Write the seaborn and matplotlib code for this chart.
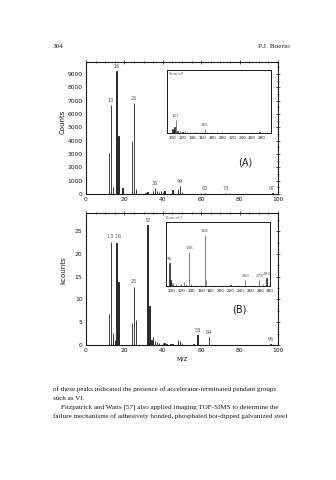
import numpy as np
import pandas as pd
import seaborn as sns
import matplotlib
matplotlib.use("Agg")
import matplotlib.pyplot as plt
from matplotlib.ticker import MultipleLocator

# ---------------- data ----------------
mz_a = [12, 13, 14, 16, 17, 19, 24, 25, 26, 31, 32, 35, 36, 37, 38, 39, 40, 41,
        45, 48, 49, 50, 60, 62, 73, 97]
cnt_a = [3050, 6650, 520, 9250, 4380, 480, 3950, 6850, 350, 90, 150, 200, 420, 200,
         160, 210, 150, 260, 320, 380, 600, 150, 50, 80, 80, 60]
lab_a_mz = [13, 16, 25, 36, 49, 62, 73, 97]

mz_a_in = [100, 102, 104, 107, 110, 115, 120, 125, 130, 135, 145, 150, 160, 165,
           170, 180, 190, 200, 215, 230, 245, 260, 275, 290]
cnt_a_in = [6, 4, 9, 21, 3, 3, 2, 3, 2, 2, 1.5, 2, 2, 7, 2, 1.5, 1.5, 1.5, 1.5, 1.5,
            1.5, 1.5, 1.5, 1.5]
lab_a_in = [107, 165]

mz_b = [12, 13, 14, 15, 16, 17, 24, 25, 26, 32, 33, 34, 35, 36, 37, 38, 40, 41, 42,
        44, 45, 48, 49, 50, 56, 58, 64, 96]
cnt_b = [6.8, 22.7, 2.7, 1.0, 22.5, 13.8, 4.8, 12.8, 5.4, 26.4, 8.5, 1.2, 1.8, 0.8,
         0.6, 0.4, 0.4, 0.5, 0.3, 0.3, 0.3, 1.0, 0.8, 0.4, 0.3, 2.2, 1.8, 0.2]
lab_b_mz = [32, 58, 64, 96]

mz_b_in = [96, 98, 100, 102, 104, 110, 120, 125, 130, 136, 140, 150, 160, 168, 170,
           185, 200, 220, 235, 250, 265, 278, 285, 293]
cnt_b_in = [36, 10, 6, 5, 5, 3, 3, 6, 3, 53, 3, 2, 2, 80, 10, 2, 2, 2, 2, 10, 2, 10, 3, 12]
lab_b_in = [96, 136, 168, 250, 278, 293]

xticks_main = [0, 20, 40, 60, 80, 100]
yticks_a = [0, 1000, 2000, 3000, 4000, 5000, 6000, 7000, 8000, 9000]
yticks_b = [0, 5, 10, 15, 20, 25]
xticks_in_a = [100, 120, 140, 160, 180, 200, 220, 240, 260, 280]
xticks_in_b = [100, 120, 140, 160, 180, 200, 220, 240, 260, 280, 300]

para = ["of these peaks indicated the presence of accelerator-terminated pendant groups",
        "such as VI.",
        "Fitzpatrick and Watts [57] also applied imaging TOF-SIMS to determine the",
        "failure mechanisms of adhesively bonded, phosphated hot-dipped galvanized steel"]

# ---------------- figure ----------------
sns.set_style("white")
plt.rcParams['font.family'] = ['DejaVu Sans']
W, H = 336, 480
fig = plt.figure(figsize=(W / 100, H / 100), dpi=100)
fig.patch.set_facecolor("white")
ink = "#1a1a1a"
grey = "#555555"


def px_axes(x0, y0, x1, y1):
    return fig.add_axes([x0 / W, 1 - y1 / H, (x1 - x0) / W, (y1 - y0) / H])


def stick(ax, mz, val, lw=0.6):
    df = pd.DataFrame({"mz": mz, "v": val})
    sns.histplot(data=df, x="mz", weights="v", discrete=True, shrink=0.3,
                 color=ink, edgecolor=ink, linewidth=lw, alpha=1, ax=ax)
    ax.set_xlabel("")
    ax.set_ylabel("")


def frame(ax, lw=0.8):
    for s in ax.spines.values():
        s.set_visible(True)
        s.set_color(ink)
        s.set_linewidth(lw)


# ---- panel A ----
axA = px_axes(86, 62, 278, 194)
stick(axA, mz_a, cnt_a)
axA.set_xlim(0, 100)
axA.set_ylim(0, 9900)
axA.set_xticks(xticks_main)
axA.set_yticks(yticks_a)
axA.xaxis.set_minor_locator(MultipleLocator(5))
axA.yaxis.set_minor_locator(MultipleLocator(500))
axA.tick_params(axis="both", which="both", direction="inout", top=True, right=True,
                labelsize=4.3, colors=ink, length=3, width=0.5, pad=1)
axA.tick_params(which="minor", length=1.5)
frame(axA)
for m, v in zip(mz_a, cnt_a):
    if m in lab_a_mz:
        axA.text(m, v + 150, str(m), fontsize=3.5, color=grey, ha="center", va="bottom")
axA.text(83, 2350, "(A)", fontsize=7, color=ink, ha="center", va="center")
fig.text(63 / W, 1 - 122 / H, "Counts", rotation=90, fontsize=5, color=ink,
         ha="center", va="center")

# inset A
axAi = px_axes(167, 70, 271, 133)
stick(axAi, mz_a_in, cnt_a_in, lw=0.4)
axAi.set_xlim(89, 298)
axAi.set_ylim(0, 100)
axAi.set_xticks(xticks_in_a)
axAi.set_yticks([])
axAi.tick_params(axis="x", labelsize=3, colors=ink, length=1.5, width=0.4, pad=1,
                 direction="out")
frame(axAi, 0.7)
for m, v in zip(mz_a_in, cnt_a_in):
    if m in lab_a_in:
        axAi.text(m, v + 3, str(m), fontsize=3, color=grey, ha="center", va="bottom")
axAi.text(0.02, 0.97, "Sum all", transform=axAi.transAxes, fontsize=2.6, color=grey,
          ha="left", va="top")

# ---- panel B ----
axB = px_axes(86, 213, 278, 345)
stick(axB, mz_b, cnt_b)
axB.set_xlim(0, 100)
axB.set_ylim(0, 29)
axB.set_xticks(xticks_main)
axB.set_yticks(yticks_b)
axB.xaxis.set_minor_locator(MultipleLocator(5))
axB.yaxis.set_minor_locator(MultipleLocator(2.5))
axB.tick_params(axis="both", which="both", direction="inout", top=True, right=True,
                labelsize=4.3, colors=ink, length=3, width=0.5, pad=1)
axB.tick_params(which="minor", length=1.5)
frame(axB)
for m, v in zip(mz_b, cnt_b):
    if m in lab_b_mz:
        axB.text(m, v + 0.4, str(m), fontsize=3.5, color=grey, ha="center", va="bottom")
axB.text(14.5, 23.2, "13 16", fontsize=3.5, color=grey, ha="center", va="bottom")
axB.text(25, 13.3, "25", fontsize=3.5, color=grey, ha="center", va="bottom")
axB.text(80, 7.7, "(B)", fontsize=7, color=ink, ha="center", va="center")
axB.set_xlabel("M/Z", fontsize=4.5, color=ink, labelpad=2)
fig.text(63 / W, 1 - 270 / H, "kcounts", rotation=90, fontsize=5, color=ink,
         ha="center", va="center")

# inset B
axBi = px_axes(166, 222, 270, 286)
stick(axBi, mz_b_in, cnt_b_in, lw=0.4)
axBi.set_xlim(89, 300)
axBi.set_ylim(0, 100)
axBi.set_xticks(xticks_in_b)
axBi.set_yticks([])
axBi.tick_params(axis="x", labelsize=3, colors=ink, length=1.5, width=0.4, pad=1,
                 direction="out")
frame(axBi, 0.7)
for m, v in zip(mz_b_in, cnt_b_in):
    if m in lab_b_in:
        axBi.text(m, v + 3, str(m), fontsize=3, color=grey, ha="center", va="bottom")
axBi.text(0.0, 1.03, "Sum of 1", transform=axBi.transAxes, fontsize=2.6, color=grey,
          ha="left", va="bottom")

# ---- page text ----
serif = ['Liberation Serif', 'DejaVu Serif']
fig.text(53 / W, 1 - 46 / H, "304", fontsize=5.2, family=serif, color=ink,
         ha="left", va="center")
fig.text(290 / W, 1 - 46 / H, "P.J. Boerio", fontsize=5.2, family=serif, color=ink,
         ha="right", va="center")
ys = [389, 398, 407, 416]
xs = [53, 53, 61, 53]
for t, y, x in zip(para, ys, xs):
    fig.text(x / W, 1 - y / H, t, fontsize=5.15, family=serif, color=ink,
             ha="left", va="center")

fig.savefig("out.png", dpi=100, facecolor="white")
